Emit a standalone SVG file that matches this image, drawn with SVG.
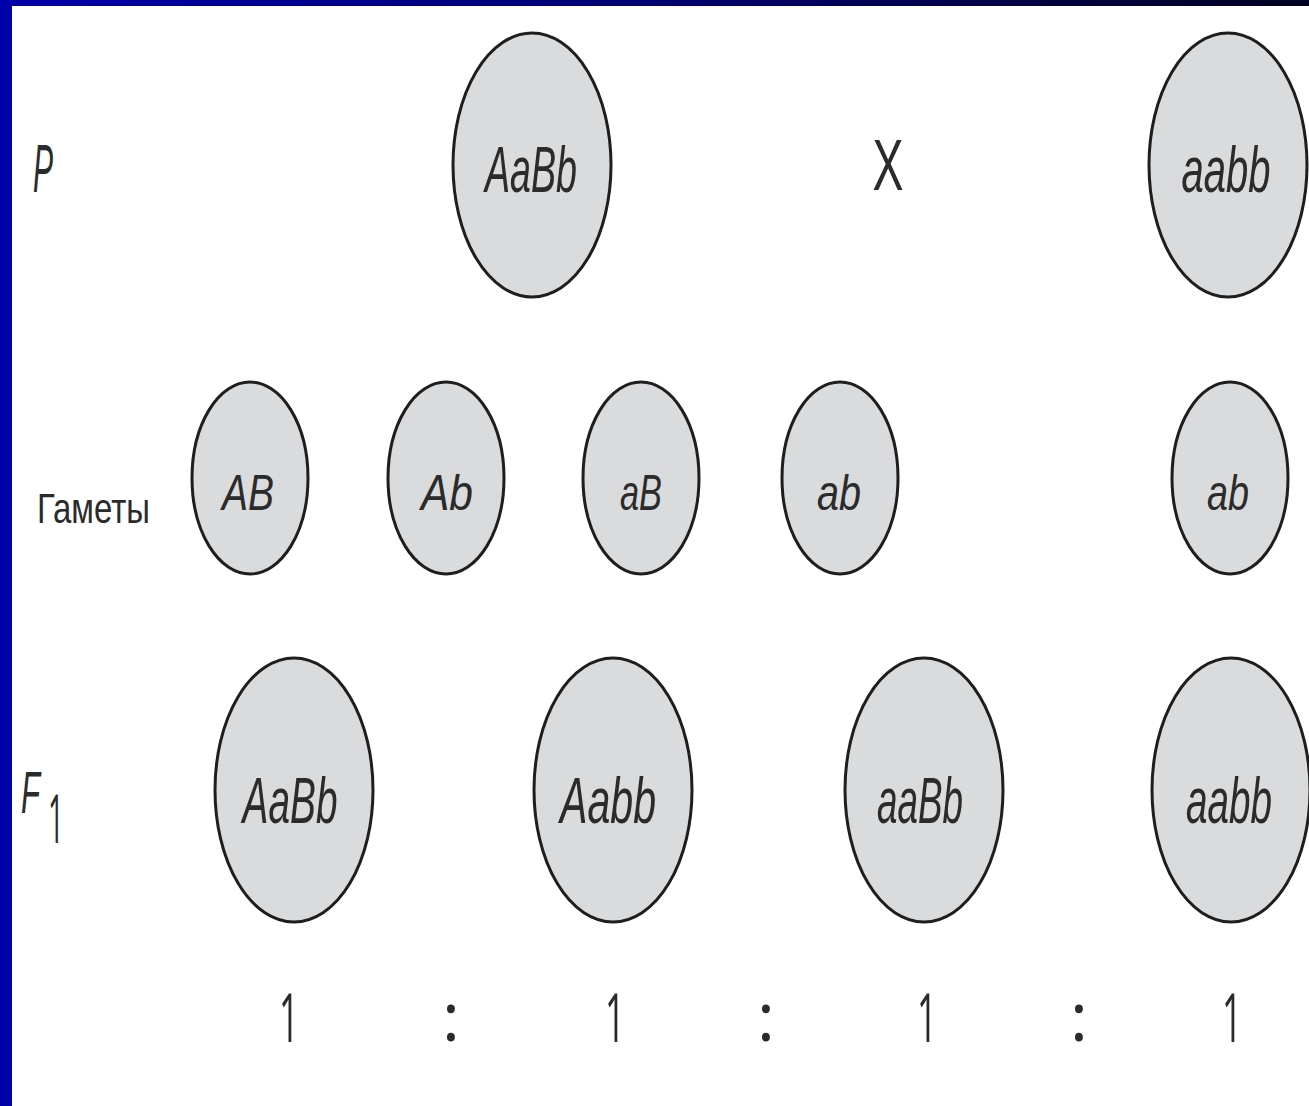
<svg xmlns="http://www.w3.org/2000/svg" width="1309" height="1106" viewBox="0 0 1309 1106">
<defs>
<linearGradient id="topbar" x1="0" y1="0" x2="1" y2="0">
<stop offset="0" stop-color="#0000AA"/>
<stop offset="0.5" stop-color="#000070"/>
<stop offset="1" stop-color="#000022"/>
</linearGradient>
</defs>
<style>
.cell{fill:#dadbdd;stroke:#1e1e1e;stroke-width:3}
.g{font-family:"Liberation Sans",Arial,sans-serif;font-style:italic;fill:#2b2b2b;text-anchor:middle}
.big{font-size:64px}
.small{font-size:50px}
.lbl{font-family:"Liberation Sans",Arial,sans-serif;fill:#2b2b2b}
.num{font-family:"Open Sans","Liberation Sans",sans-serif;font-weight:400;fill:#2b2b2b;text-anchor:middle;font-size:68px}
</style>
<rect x="0" y="0" width="1309" height="1106" fill="#ffffff"/>
<rect x="0" y="0" width="1309" height="6" fill="url(#topbar)"/>
<rect x="0" y="0" width="12" height="1106" fill="#0000AA"/>

<g id="labels">
<text class="lbl" x="33" y="192" font-size="68" font-style="italic" textLength="20" lengthAdjust="spacingAndGlyphs">P</text>
<text class="lbl" x="37" y="523" font-size="42" textLength="113" lengthAdjust="spacingAndGlyphs">Гаметы</text>
<text class="lbl" transform="translate(21,813) scale(0.52,1)" x="0" y="0" font-size="60" font-style="italic">F</text>
<text class="num" x="56" y="843" font-size="56" textLength="16" lengthAdjust="spacingAndGlyphs">1</text>
<text class="lbl" x="888" y="190" font-size="72" text-anchor="middle" textLength="31" lengthAdjust="spacingAndGlyphs">X</text>
</g>

<g id="p-AaBb">
<ellipse class="cell" cx="532" cy="165" rx="79" ry="132"/>
<text class="g big" x="531" y="192" textLength="92" lengthAdjust="spacingAndGlyphs">AaBb</text>
</g>
<g id="p-aabb">
<ellipse class="cell" cx="1228" cy="165" rx="79" ry="132"/>
<text class="g big" x="1226" y="192" textLength="89" lengthAdjust="spacingAndGlyphs">aabb</text>
</g>

<g id="gamete-AB">
<ellipse class="cell" cx="250" cy="478" rx="58" ry="96"/>
<text class="g small" x="248" y="510" textLength="52" lengthAdjust="spacingAndGlyphs">AB</text>
</g>
<g id="gamete-Ab">
<ellipse class="cell" cx="446" cy="478" rx="58" ry="96"/>
<text class="g small" x="447" y="510" textLength="52" lengthAdjust="spacingAndGlyphs">Ab</text>
</g>
<g id="gamete-aB">
<ellipse class="cell" cx="641" cy="478" rx="58" ry="96"/>
<text class="g small" x="641" y="510" textLength="42" lengthAdjust="spacingAndGlyphs">aB</text>
</g>
<g id="gamete-ab1">
<ellipse class="cell" cx="840" cy="478" rx="58" ry="96"/>
<text class="g small" x="839" y="510" textLength="44" lengthAdjust="spacingAndGlyphs">ab</text>
</g>
<g id="gamete-ab2">
<ellipse class="cell" cx="1230" cy="478" rx="58" ry="96"/>
<text class="g small" x="1228" y="510" textLength="42" lengthAdjust="spacingAndGlyphs">ab</text>
</g>

<g id="f1-AaBb">
<ellipse class="cell" cx="294" cy="790" rx="79" ry="132"/>
<text class="g big" x="290" y="823" textLength="95" lengthAdjust="spacingAndGlyphs">AaBb</text>
</g>
<g id="f1-Aabb">
<ellipse class="cell" cx="613" cy="790" rx="79" ry="132"/>
<text class="g big" x="608" y="823" textLength="96" lengthAdjust="spacingAndGlyphs">Aabb</text>
</g>
<g id="f1-aaBb">
<ellipse class="cell" cx="924" cy="790" rx="79" ry="132"/>
<text class="g big" x="920" y="823" textLength="86" lengthAdjust="spacingAndGlyphs">aaBb</text>
</g>
<g id="f1-aabb">
<ellipse class="cell" cx="1231" cy="790" rx="79" ry="132"/>
<text class="g big" x="1229" y="823" textLength="86" lengthAdjust="spacingAndGlyphs">aabb</text>
</g>

<g id="ratio">
<text class="num" x="289" y="1042" textLength="20" lengthAdjust="spacingAndGlyphs">1</text>
<text class="num" x="451" y="1041" font-size="46">:</text>
<text class="num" x="615" y="1042" textLength="20" lengthAdjust="spacingAndGlyphs">1</text>
<text class="num" x="766" y="1041" font-size="46">:</text>
<text class="num" x="927" y="1042" textLength="20" lengthAdjust="spacingAndGlyphs">1</text>
<text class="num" x="1079" y="1041" font-size="46">:</text>
<text class="num" x="1232" y="1042" textLength="20" lengthAdjust="spacingAndGlyphs">1</text>
</g>

<g id="connectors"></g>
</svg>
